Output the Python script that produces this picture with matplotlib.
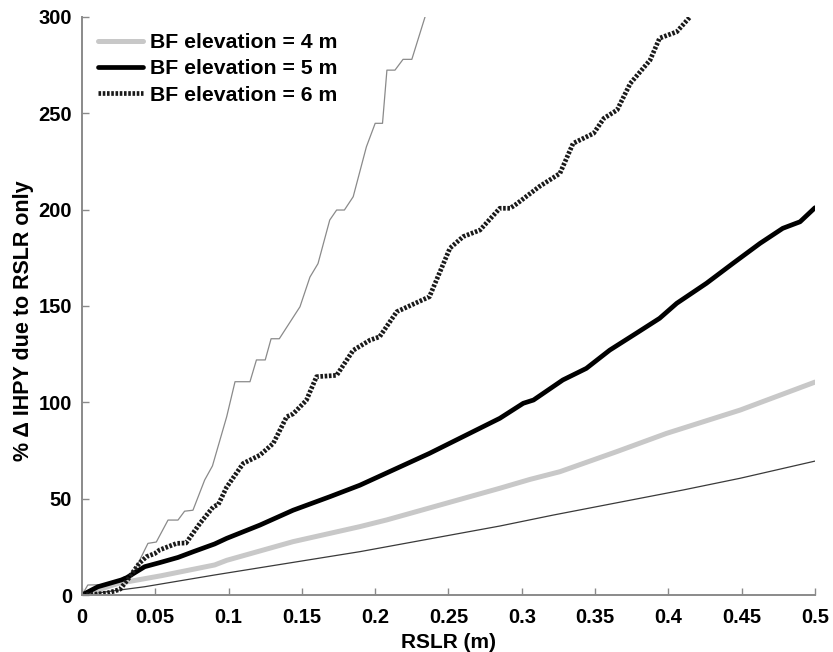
import matplotlib
matplotlib.use("Agg")
import matplotlib.pyplot as plt

plt.rcParams['font.family'] = ['Liberation Sans', 'DejaVu Sans']
plt.rcParams['font.weight'] = 'bold'

# thin grey step curve (unlabelled)
grey_thin_x = [0, 0.004, 0.024, 0.029, 0.034, 0.045, 0.0507, 0.0587, 0.0655, 0.070, 0.0757,
               0.0837, 0.089, 0.0987, 0.1044, 0.1146, 0.119, 0.125, 0.129, 0.1346, 0.1487,
               0.1555, 0.161, 0.169, 0.1737, 0.179, 0.185, 0.194, 0.200, 0.205, 0.208,
               0.2135, 0.219, 0.225, 0.234]
grey_thin_y = [0, 5.2, 5.5, 9.5, 9.8, 26.8, 27.5, 38.9, 38.9, 43.5, 44,
               59.7, 67, 92.5, 110.7, 110.7, 122, 122, 133, 133, 149.6,
               165, 172, 194.6, 199.8, 199.8, 206.7, 232.6, 244.8, 244.8, 272.4,
               272.4, 278, 278, 300]

# BF elevation = 6 m (dotted)
bf6_x = [0, 0.01, 0.017, 0.022, 0.026, 0.031, 0.039, 0.044, 0.0496, 0.053, 0.0646, 0.071,
         0.0805, 0.0896, 0.093, 0.0987, 0.110, 0.1214, 0.1305, 0.1396, 0.144, 0.153, 0.160,
         0.1737, 0.185, 0.1965, 0.203, 0.2147, 0.237, 0.251, 0.260, 0.2715, 0.285, 0.292,
         0.2965, 0.312, 0.326, 0.335, 0.349, 0.356, 0.365, 0.374, 0.3875, 0.394, 0.4057, 0.4147]
bf6_y = [0, 0.5, 1, 2, 3, 7.8, 16.4, 19.9, 21.5, 23.4, 26.8, 27,
         37.2, 45.8, 47, 56, 68.3, 72.6, 78.7, 92.5, 94, 101, 113.3,
         114, 127, 132.3, 134, 147, 154.8, 180, 186, 189.4, 200.7, 200.7,
         203, 212, 218.8, 234.4, 239.6, 247.4, 251.7, 265.5, 277.6, 289, 292.3, 300]

# BF elevation = 5 m (thick black)
bf5_x = [0, 0.0109, 0.0268, 0.0305, 0.0428, 0.053, 0.0655, 0.076, 0.0905, 0.0987, 0.1214,
         0.144, 0.169, 0.1896, 0.237, 0.285, 0.301, 0.308, 0.328, 0.344, 0.360, 0.378,
         0.394, 0.4057, 0.426, 0.444, 0.4625, 0.478, 0.4898, 0.5]
bf5_y = [0, 4.3, 7.8, 9, 14.7, 16.8, 19.5, 22.5, 26.5, 29.4, 36.3,
         44, 51, 57, 73.5, 91.7, 99.5, 101.2, 111.6, 117.6, 127.1, 135.8,
         143.6, 151.4, 161.8, 172.1, 182.5, 190.3, 193.7, 201]

# BF elevation = 4 m (thick light grey)
bf4_x = [0, 0.0246, 0.054, 0.0905, 0.0987, 0.144, 0.1896, 0.208, 0.285, 0.3056, 0.326,
         0.3647, 0.3988, 0.449, 0.5]
bf4_y = [0, 6, 10, 15.6, 18, 27.7, 35.5, 39, 55.4, 60, 64,
         74.4, 83.9, 96, 110.5]

# thin black curve (unlabelled)
black_thin_x = [0, 0.0428, 0.0905, 0.1896, 0.285, 0.3215, 0.41, 0.449, 0.5]
black_thin_y = [0, 4.3, 10.4, 22.5, 35.8, 41.5, 54.5, 60.6, 69.5]

xticks = [0, 0.05, 0.1, 0.15, 0.2, 0.25, 0.3, 0.35, 0.4, 0.45, 0.5]
xticklabels = ['0', '0.05', '0.1', '0.15', '0.2', '0.25', '0.3', '0.35', '0.4', '0.45', '0.5']
yticks = [0, 50, 100, 150, 200, 250, 300]

fig = plt.figure(figsize=(8.33, 6.52), dpi=100)
ax = fig.add_axes([0.0984, 0.0874, 0.8800, 0.8866])

ax.plot(grey_thin_x, grey_thin_y, color='#8a8a8a', lw=0.9)
ax.plot(black_thin_x, black_thin_y, color='#3a3a3a', lw=0.9)
ax.plot(bf4_x, bf4_y, color='#c8c8c8', lw=3.6, solid_capstyle='round', label='BF elevation = 4 m')
ax.plot(bf5_x, bf5_y, color='black', lw=3.4, solid_capstyle='round', label='BF elevation = 5 m')
ax.plot(bf6_x, bf6_y, color='#1a1a1a', lw=3.4, linestyle=(0, (0.55, 0.35)),
        label='BF elevation = 6 m')

ax.set_xlim(0, 0.5)
ax.set_ylim(0, 300)
ax.set_xticks(xticks)
ax.set_xticklabels(xticklabels)
ax.set_yticks(yticks)

for s in ['top', 'right']:
    ax.spines[s].set_visible(False)
for s in ['left', 'bottom']:
    ax.spines[s].set_color('#8a8a8a')
    ax.spines[s].set_linewidth(1.4)
ax.tick_params(direction='in', length=5, width=1.0, color='#8a8a8a', labelsize=14.5)
ax.tick_params(axis='x', pad=9)
ax.tick_params(axis='y', pad=7)
for lab in ax.get_xticklabels() + ax.get_yticklabels():
    lab.set_fontweight('bold')

ax.set_xlabel('RSLR (m)', fontsize=15, fontweight='bold', labelpad=5)
ax.set_ylabel('% Δ IHPY due to RSLR only', fontsize=15.5, fontweight='bold')
ax.yaxis.set_label_coords(-0.066, 0.474)

leg = ax.legend(loc='upper left', frameon=False, fontsize=15.3,
                handlelength=2.1, handletextpad=0.33, labelspacing=0.34,
                bbox_to_anchor=(0.022, 0.972), borderaxespad=0, borderpad=0)
for t in leg.get_texts():
    t.set_fontweight('bold')

fig.savefig('out.png', dpi=100)
